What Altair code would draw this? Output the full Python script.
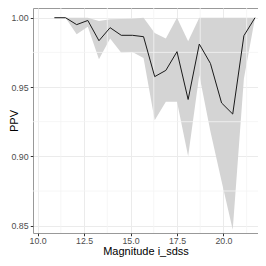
import altair as alt
import pandas as pd

mags = [10.9, 11.5, 12.1, 12.7, 13.3, 13.9, 14.5, 15.1, 15.7, 16.3,
        16.9, 17.5, 18.1, 18.7, 19.3, 19.9, 20.5, 21.1, 21.7]
ppv = [1.000, 1.000, 0.995, 0.998, 0.9834, 0.9928, 0.9873, 0.9873, 0.9863, 0.9575,
       0.962, 0.9755, 0.941, 0.981, 0.967, 0.9385, 0.9305, 0.987, 1.000]
lower = [1.000, 1.000, 0.988, 0.9935, 0.970, 0.985, 0.9748, 0.9753, 0.971, 0.926,
         0.9394, 0.9394, 0.900, 0.9587, 0.918, 0.882, 0.847, 0.956, 1.000]
upper = [1.000, 1.000, 1.000, 1.000, 0.9976, 0.9988, 0.999, 0.9993, 1.000, 0.989,
         0.985, 1.000, 0.983, 1.000, 1.000, 1.000, 1.000, 1.000, 1.000]

x_ticks = [10.0, 12.5, 15.0, 17.5, 20.0]
y_ticks = [0.85, 0.90, 0.95, 1.00]
x_minor = [11.25, 13.75, 16.25, 18.75, 21.25]
y_minor = [0.875, 0.925, 0.975]

df = pd.DataFrame({"mag": mags, "ppv": ppv, "lo": lower, "hi": upper})

xs = alt.Scale(domain=[9.75, 21.86], nice=False, zero=False)
ys = alt.Scale(domain=[0.8447, 1.007], nice=False, zero=False)

FONT = "Liberation Sans"

xaxis = alt.Axis(values=x_ticks, format=".1f", title="Magnitude i_sdss",
                 tickSize=2.75, labelPadding=1.2, labelFontSize=8.8,
                 labelColor="#4D4D4D", tickColor="#333333", domain=False,
                 titleFontSize=11, titleFontWeight="normal", titleColor="#000000",
                 titlePadding=0,
                 gridColor="#EBEBEB", gridWidth=1, labelFont=FONT, titleFont=FONT)
yaxis = alt.Axis(values=y_ticks, format=".2f", title="PPV",
                 tickSize=2.75, labelPadding=2.2, labelFontSize=8.8,
                 labelColor="#4D4D4D", tickColor="#333333", domain=False,
                 titleFontSize=11, titleFontWeight="normal", titleColor="#000000",
                 titleX=-14, titleBaseline="bottom",
                 gridColor="#EBEBEB", gridWidth=1, labelFont=FONT, titleFont=FONT)

base = alt.Chart(df)
band = base.mark_area(color="#D4D4D4", opacity=1).encode(
    x=alt.X("mag:Q", scale=xs, axis=xaxis),
    y=alt.Y("lo:Q", scale=ys, axis=yaxis),
    y2="hi:Q",
)
line = base.mark_line(color="#1a1a1a", strokeWidth=1).encode(
    x=alt.X("mag:Q", scale=xs, axis=xaxis),
    y=alt.Y("ppv:Q", scale=ys, axis=yaxis),
)
minor_x = alt.Chart(pd.DataFrame({"v": x_minor})).mark_rule(
    color="#F4F4F4", strokeWidth=0.8).encode(x=alt.X("v:Q", scale=xs, axis=xaxis))
minor_y = alt.Chart(pd.DataFrame({"v": y_minor})).mark_rule(
    color="#F4F4F4", strokeWidth=0.8).encode(y=alt.Y("v:Q", scale=ys, axis=yaxis))

chart = alt.layer(band, minor_x, minor_y, line).properties(
    width=225, height=225,
    autosize=alt.AutoSizeParams(type="none"),
    padding={"left": 25, "top": 0, "right": 0, "bottom": 25},
    background="white",
).configure_view(stroke="#999999", strokeWidth=1)

chart.save("out.html", embed_options={"renderer": "svg", "actions": False})
